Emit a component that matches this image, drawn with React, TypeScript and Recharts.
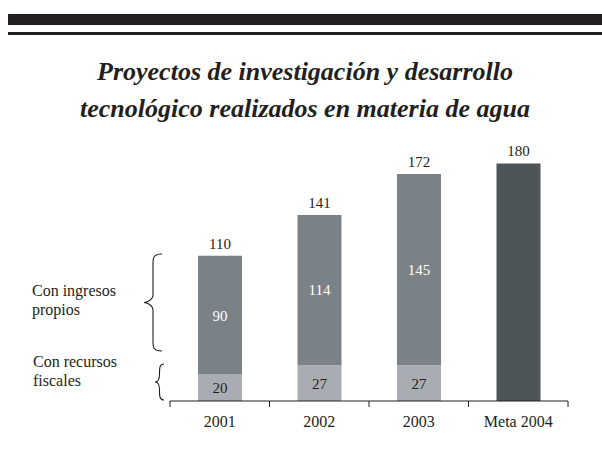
import { BarChart, Bar, XAxis, YAxis, LabelList } from 'recharts';

const categories = ['2001', '2002', '2003', 'Meta 2004'];
const fiscales = [20, 27, 27, null];
const propios = [90, 114, 145, null];
const meta = [null, null, null, 180];

const W = 602;
const H = 452;
const AXIS_H = 30;
const margin = { top: 137, right: 34, bottom: 51 - AXIS_H, left: 170 };
const serif = '"Liberation Serif", "Times New Roman", serif';

const data = categories.map((name, i) => ({
  name,
  fiscales: fiscales[i],
  propios: propios[i],
  meta: meta[i],
  total: (fiscales[i] ?? 0) + (propios[i] ?? 0),
}));

const bandHalf = (W - margin.left - margin.right) / categories.length / 2;

const AxisTick = (props: any) => {
  const { x, y, payload, index } = props;
  return (
    <g>
      <line x1={x - bandHalf} y1={y - 8} x2={x - bandHalf} y2={y - 2} stroke="#231f20" />
      {index === categories.length - 1 && (
        <line x1={x + bandHalf} y1={y - 8} x2={x + bandHalf} y2={y - 2} stroke="#231f20" />
      )}
      <text x={x} y={y + 18} textAnchor="middle" fontFamily={serif} fontSize={16} fill="#231f20">
        {payload.value}
      </text>
    </g>
  );
};

// llave { apuntando a la izquierda
const brace = (x: number, y1: number, y2: number, w: number) => {
  const m = (y1 + y2) / 2;
  const h = w / 2;
  return `M${x + w},${y1} C${x + h},${y1} ${x + h},${y1 + 4} ${x + h},${y1 + 10} L${x + h},${m - 8} C${x + h},${m - 2} ${x + 2},${m} ${x},${m} C${x + 2},${m} ${x + h},${m + 2} ${x + h},${m + 8} L${x + h},${y2 - 10} C${x + h},${y2 - 4} ${x + h},${y2} ${x + w},${y2}`;
};

const App = () => {
  return (
    <div style={{ position: 'absolute', left: 0, top: 0, width: W, height: H, background: '#fff', fontFamily: serif }}>
      <div style={{ position: 'absolute', left: 8, top: 14, width: W - 8, height: 11, background: '#231f20' }} />
      <div style={{ position: 'absolute', left: 8, top: 32, width: W - 8, height: 3, background: '#231f20' }} />
      <div
        style={{
          position: 'absolute', left: 0, top: 53, width: W + 8, textAlign: 'center',
          fontSize: 26, fontWeight: 'bold', fontStyle: 'italic', lineHeight: '37px', color: '#231f20',
        }}
      >
        Proyectos de investigación y desarrollo
        <br />
        tecnológico realizados en materia de agua
      </div>

      <BarChart width={W} height={H} data={data} margin={margin} style={{ position: 'absolute', left: 0, top: 0 }}>
        <YAxis hide domain={[0, 200]} />
        <XAxis dataKey="name" height={AXIS_H} axisLine={{ stroke: '#231f20' }} tickLine={false} tick={<AxisTick />} interval={0} />
        <Bar dataKey="fiscales" stackId="a" fill="#a9adb3" barSize={44} isAnimationActive={false}>
          <LabelList dataKey="fiscales" position="center" fill="#231f20" fontFamily={serif} fontSize={15} />
        </Bar>
        <Bar dataKey="propios" stackId="a" fill="#7a8187" barSize={44} isAnimationActive={false}>
          <LabelList dataKey="propios" position="center" fill="#ffffff" fontFamily={serif} fontSize={15} />
          <LabelList dataKey="total" position="top" offset={7} fill="#231f20" fontFamily={serif} fontSize={15} />
        </Bar>
        <Bar dataKey="meta" stackId="a" fill="#4d5558" barSize={44} isAnimationActive={false}>
          <LabelList dataKey="meta" position="top" offset={7} fill="#231f20" fontFamily={serif} fontSize={15} />
        </Bar>
      </BarChart>

      <svg width={W} height={H} style={{ position: 'absolute', left: 0, top: 0, pointerEvents: 'none' }}>
        <path d={brace(144, 254, 351, 18)} fill="none" stroke="#231f20" strokeWidth={1.1} />
        <path d={brace(155, 364, 400, 9)} fill="none" stroke="#231f20" strokeWidth={1.1} />
        <g fontFamily={serif} fontSize={16} fill="#231f20">
          <text x={32} y={296}>Con ingresos</text>
          <text x={32} y={315}>propios</text>
          <text x={33} y={367}>Con recursos</text>
          <text x={33} y={386}>fiscales</text>
        </g>
      </svg>
    </div>
  );
};

export default App;
